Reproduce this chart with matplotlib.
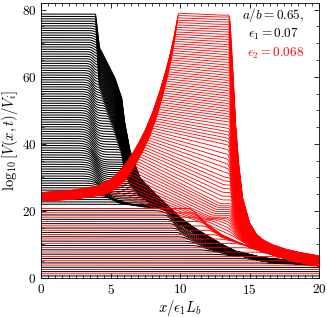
import numpy as np
import matplotlib
matplotlib.use("Agg")
import matplotlib.pyplot as plt
from matplotlib.ticker import MultipleLocator

plt.rcParams['mathtext.fontset'] = 'cm'
plt.rcParams['font.family'] = 'serif'
plt.rcParams['font.serif'] = ['cmr10', 'DejaVu Serif']
plt.rcParams['axes.formatter.use_mathtext'] = True

# ---- values --------------------------------------------------------------
# stacked levels of the flat (early) curves and of the grown curves
black_low_levels = np.arange(0.6, 21.2, 1.3)
black_high_levels = np.arange(22.0, 79.3, 0.7)
red_low_levels = np.arange(1.25, 21.6, 1.3)
red_peaks = np.arange(26.0, 79.3, 0.7)

# black front: position / width / droop as a function of plateau level
bf_level = [0, 20, 22, 25, 30, 40, 50, 60, 70, 79]
bf_x = [9.5, 9.5, 7.0, 5.0, 4.2, 3.8, 3.7, 3.7, 3.8, 3.9]
bf_w = [0.6, 0.6, 0.6, 0.6, 0.5, 0.45, 0.35, 0.25, 0.2, 0.15]
bf_drop = [0, 0, 1, 3, 4, 5, 4, 3, 1, 0]

# black decay envelope behind the front (top curve / lowest grown curve)
benv_x = [0, 3.9, 4.2, 5.3, 5.8, 6.0, 6.4, 7.1, 8.0, 9.0, 10, 11, 12, 13, 14, 16, 20]
benv_hi = [82, 80, 69, 60, 54, 47, 38, 30, 26, 22, 18, 15, 12.5, 10, 8, 6, 4.5]
benv_lo = [40, 35, 33, 30, 28, 27, 26, 24, 22, 20, 16, 13.5, 11, 9, 7, 5, 3.8]

# red rising band
rband_x = [0, 2, 4, 5, 5.5, 6, 6.5, 7, 7.5, 8, 8.5, 9, 9.25, 9.5, 10, 20]
rband_y = [24, 24.5, 25.8, 27.8, 29.6, 32, 35, 38.5, 42.5, 47.5, 53.5,
           60.5, 64.5, 69, 80, 400]

# red plateau end: value at the right front and its position vs peak
rp_peak = [26, 30, 35, 40, 45, 50, 60, 70, 79]
rp_end = [17, 18, 22, 30, 40, 47, 58, 69, 78.5]
rp_xr = [11.5, 12.3, 13.0, 13.4, 13.6, 13.7, 13.7, 13.6, 13.5]

# red tail behind the right front, and the envelope of the flat red lines
rtail_x = [0, 12, 13, 13.4, 13.6, 13.8, 14.0, 14.2, 14.5, 15, 15.5, 16,
           16.6, 17.5, 18.5, 20]
rtail_hi = [82, 82, 82, 82, 76, 62, 46, 35, 24, 16.5, 13, 11.3, 10, 8.7,
            7.7, 6.6]
rtail_lo = [30, 16, 14, 13.3, 12.9, 12.5, 12, 11.5, 10.8, 9.5, 8.5, 7.8,
            7.0, 6.0, 5.0, 3.6]
rlow_x = [0, 9, 10, 11, 12, 13, 14, 15, 16, 18, 20]
rlow_env = [40, 30, 25, 20, 16, 13, 11, 9.2, 7.8, 5.2, 3.6]


def sig(z):
    return 0.5 * (1 + np.tanh(z))


def smin(a, b, k=0.35):
    return -k * np.logaddexp(-a / k, -b / k)


x = np.linspace(0, 20, 1500)
spread_w = np.clip((14.5 - x) / 4.0, 0, 1)

fig = plt.figure(figsize=(3.27, 3.17), dpi=100)
ax = fig.add_axes([41 / 327, 39 / 317, 278 / 327, 275 / 317])

for L in np.concatenate([black_low_levels, black_high_levels]):
    frac = np.clip((L - 22) / 57, 0, 1)
    xf = np.interp(L, bf_level, bf_x)
    w = np.interp(L, bf_level, bf_w)
    D = np.interp(L, bf_level, bf_drop)
    lo = np.interp(x, benv_x, benv_lo) + 0.3 * min(L - 22, 0) * spread_w
    env = lo + frac * (np.interp(x, benv_x, benv_hi) - lo)
    plat = L - D * sig((x - xf) / w)
    ax.plot(x, smin(plat, env), color='black', lw=0.75)

for L in red_low_levels:
    env = np.interp(x, rlow_x, rlow_env) + 0.25 * (L - 21.5) * spread_w
    ax.plot(x, smin(np.full_like(x, L), env), color='red', lw=0.65)

for P in red_peaks:
    frac = (P - 26) / (79 - 26)
    dx = 0.45 * (1 - frac)
    band = np.interp(x - dx, rband_x, rband_y) + (23 + 2.5 * frac - 24)
    xl = np.interp(P, rband_y, rband_x) + dx
    xr = np.interp(P, rp_peak, rp_xr)
    Q = np.interp(P, rp_peak, rp_end)
    plat = P + (Q - P) * np.clip((x - xl) / max(xr - xl, 0.1), 0, 1)
    lo = np.interp(x, rtail_x, rtail_lo)
    tail = lo + frac * (np.interp(x, rtail_x, rtail_hi) - lo)
    right = smin(plat, tail + (plat - tail) * sig((xr - x) / 0.12))
    ax.plot(x, smin(band, right), color='red', lw=0.6)

ax.set_xlim(0, 20)
ax.set_ylim(0, 82)
ax.xaxis.set_major_locator(MultipleLocator(5))
ax.xaxis.set_minor_locator(MultipleLocator(0.5))
ax.yaxis.set_major_locator(MultipleLocator(20))
ax.yaxis.set_minor_locator(MultipleLocator(5))
ax.tick_params(which='both', direction='in', top=True, right=True, labelsize=9.5)
ax.tick_params(which='major', length=3.5, width=0.6)
ax.tick_params(which='minor', length=2, width=0.5)
for s in ax.spines.values():
    s.set_linewidth(0.6)

ax.set_xlabel(r'$x/\epsilon_1 L_b$', fontsize=10.5, labelpad=1)
ax.set_ylabel(r'$\log_{10}[V(x,t)/V_i]$', fontsize=10.5, labelpad=1)

ax.text(16.7, 78.4, r'$a/b = 0.65,$', ha='center', va='center', fontsize=9.5)
ax.text(16.7, 72.5, r'$\epsilon_1 = 0.07$', ha='center', va='center', fontsize=9.5)
ax.text(16.9, 67.1, r'$\epsilon_2 = 0.068$', ha='center', va='center',
        fontsize=9.5, color='red')

fig.savefig('out.png', dpi=100)
